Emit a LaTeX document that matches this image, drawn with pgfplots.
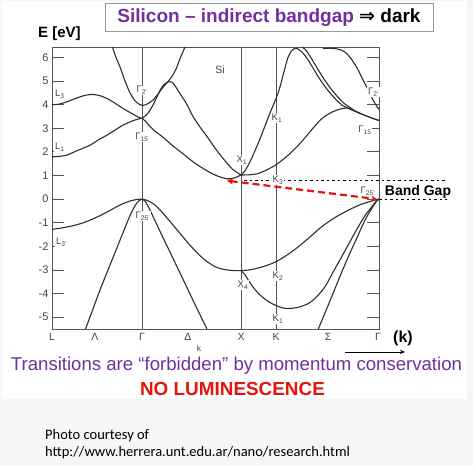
\documentclass[border=0pt]{standalone}
\usepackage{pgfplots}
\pgfplotsset{compat=1.18}
\usepackage{fontspec}
\setmainfont{Liberation Sans}
\newfontfamily\dejavu{DejaVu Sans}
\newfontfamily\carlito{Carlito}
\usetikzlibrary{arrows.meta}
\definecolor{purp}{HTML}{7030A0}
\definecolor{redc}{HTML}{E8140C}
\definecolor{axc}{HTML}{555555}
\definecolor{tkc}{HTML}{444444}
\definecolor{bandc}{HTML}{2E2E2E}
\definecolor{bgc}{HTML}{F4F6F7}
\tikzset{lbl/.style={font=\fontsize{9.5}{11}\selectfont, text=tkc, fill=white, inner sep=0.8pt}}
\begin{document}
\begin{tikzpicture}[x=1pt,y=1pt]
\useasboundingbox (0,0) rectangle (473,-465);
\fill[bgc] (0,0) rectangle (473,-465);
\fill[white] (2,-1) rectangle (467,-399);
% title box
\draw[draw=gray!80, line width=0.8pt] (105,-3) rectangle (433,-31.5);
\node at (269,-17.5) {\fontsize{19}{22}\selectfont\bfseries\textcolor{purp}{Silicon – indirect bandgap} {\dejavu\bfseries ⇒} dark};
\node at (59.5,-34) {\fontsize{15}{17}\selectfont\bfseries E [eV]};
\begin{axis}[
  at={(52pt,-329pt)}, anchor=south west,
  width=327pt, height=282pt, scale only axis,
  xmin=0, xmax=327, ymin=-5.5, ymax=6.44,
  axis line style={draw=axc, line width=0.9pt},
  xtick={0,43,90,136,189,224,276,326},
  xticklabels={L,Λ,Γ,Δ,X,K,Σ,Γ},
  x tick label style={font=\fontsize{10.5}{12}\selectfont, text=tkc, yshift=-1pt},
  xtick style={draw=none},
  ytick={-5,-4,-3,-2,-1,0,1,2,3,4,5,6},
  yticklabels={-5,-4,-3,-2,-1,0,1,2,3,4,5,6},
  yticklabel pos=left,
  ytick pos=both,
  y tick label style={font=\fontsize{11}{12}\selectfont, text=tkc},
  tick align=inside,
  major tick length=12pt,
  ytick style={draw=axc, line width=0.8pt},
  clip=false,
  every axis plot/.append style={line width=1.1pt, bandc, no marks},
]
% vertical symmetry lines
\addplot[line width=0.8pt, axc] coordinates {(90,-5.5) (90,6.44)};
\addplot[line width=0.8pt, axc] coordinates {(189,-5.5) (189,6.44)};
\addplot[line width=0.8pt, axc] coordinates {(224,-5.5) (224,6.44)};
% dotted band-gap guide lines
\addplot[line width=0.7pt, black, dash pattern=on 2.5pt off 3pt] coordinates {(192,0.8) (395,0.8)};
\addplot[line width=0.7pt, black, dash pattern=on 2.5pt off 3pt] coordinates {(327,0) (395,0)};
% ---- conduction bands ----
% L3 band
\addplot[smooth] coordinates {(0,4.0) (7,4.02) (14.7,4.12) (21,4.22) (28,4.33) (35,4.41) (41,4.43) (48,4.38) (55,4.26) (63,4.06) (71,3.84) (80,3.62) (86,3.48) (90,3.42)};
% L1 band
\addplot[smooth] coordinates {(0,1.79) (7,1.81) (14.7,1.86) (25,2.05) (38,2.28) (46,2.5) (55,2.71) (63,2.92) (71,3.13) (80,3.3) (86,3.39) (90,3.42)};
% Gamma2' band
\addplot[smooth] coordinates {(60.5,6.44) (64,6.0) (68,5.6) (73,5.0) (78,4.5) (83,4.17) (87,4.02) (90,3.97) (94,4.0) (98,4.1) (101.3,4.2) (106,4.45) (111.3,4.75) (116.5,5.0) (120,5.2) (124,5.5) (128.5,6.0) (133,6.44)};
% Gamma15 upper branch -> X1
\addplot[smooth] coordinates {(90,3.42) (94,3.55) (98,3.76) (103,4.15) (108,4.6) (112,4.85) (117,4.98) (120,4.95) (123,4.8) (128,4.47) (135,4.0) (141,3.5) (148,3.05) (155,2.65) (161,2.28) (168,1.88) (175,1.52) (181,1.25) (189,1.02)};
% Gamma15 lower branch -> minimum -> X1
\addplot[smooth] coordinates {(90,3.42) (93,3.32) (96,3.17) (101,2.95) (106,2.78) (111,2.62) (121,2.25) (131,1.92) (141,1.58) (151,1.3) (161,1.06) (168,0.94) (175,0.86) (182,0.89) (189,1.02)};
% X1 -> steep -> peak -> Gamma
\addplot[smooth] coordinates {(189,1.02) (193,1.2) (198,1.58) (203,2.05) (208,2.55) (213,3.1) (218,3.65) (224,4.26) (228,4.75) (232,5.4) (236,6.0) (240,6.3) (243.5,6.38) (247,6.33) (251,6.18) (256,5.9) (261,5.55) (266,5.2) (271,4.88) (276,4.6) (281,4.35) (286,4.13) (291,3.95) (296,3.85) (302,3.74) (308,3.63) (314,3.53) (320,3.43) (327,3.33)};
% X1 -> K3 -> Gamma
\addplot[smooth] coordinates {(189,1.02) (197,1.03) (205,1.07) (214,1.22) (224,1.45) (231,1.68) (238,1.93) (245,2.22) (251,2.5) (258,2.85) (265,3.2) (271,3.45) (278,3.64) (285,3.77) (291,3.84) (296,3.85) (302,3.74) (308,3.63) (314,3.53) (320,3.43) (327,3.33)};
% second descending line
\addplot[smooth] coordinates {(250,6.44) (254,6.3) (258,6.05) (263,5.7) (268,5.35) (273,5.02) (278,4.72) (283,4.46) (288,4.22) (293,4.02) (298,3.88) (302,3.76) (308,3.63)};
% Gamma2' (right) band
\addplot[smooth] coordinates {(271,6.37) (276,6.39) (281,6.38) (286,6.35) (291,6.28) (295,6.15) (299,5.95) (303,5.7) (307,5.4) (311,5.05) (315,4.72) (318,4.45) (321,4.2) (324,3.98) (327,3.8)};
% ---- valence bands ----
\addplot[smooth] coordinates {(0,-1.28) (10,-1.22) (19.7,-1.14) (30,-1.02) (39.7,-0.86) (50,-0.66) (59.7,-0.44) (68,-0.25) (76,-0.11) (83,-0.03) (90,0) (96,-0.07) (103,-0.25) (111,-0.6) (119.7,-1.03) (128,-1.45) (136.3,-1.87) (145,-2.27) (153,-2.58) (163,-2.86) (172,-2.98) (180,-3.02) (189,-3.03) (197,-3.0) (205,-2.93) (214,-2.82) (224,-2.65) (235,-2.37) (246.3,-2.02) (258,-1.6) (269.7,-1.17) (283,-0.78) (296.3,-0.47) (308,-0.24) (319.7,-0.08) (327,0)};
\addplot[smooth] coordinates {(189,-3.03) (193,-3.2) (196.3,-3.43) (201,-3.72) (206.3,-3.99) (215,-4.3) (223.7,-4.5) (231,-4.61) (237,-4.63) (244,-4.6) (251,-4.52) (258,-4.38) (265,-4.12) (273,-3.71) (281,-3.1) (289.7,-2.44) (298,-1.8) (306.3,-1.17) (313,-0.7) (319.7,-0.33) (324,-0.1) (327,0)};
\addplot[smooth] coordinates {(33.5,-5.5) (41,-4.65) (48,-3.85) (56,-3.0) (64,-2.16) (71,-1.42) (78,-0.7) (83,-0.28) (87,-0.07) (90,0)};
\addplot[smooth] coordinates {(90,0) (93,-0.08) (96,-0.3) (100,-0.64) (107.4,-1.31) (120,-2.42) (133,-3.57) (144,-4.55) (155,-5.5)};
\addplot[smooth] coordinates {(266.3,-5.5) (273,-4.82) (279.7,-4.13) (288,-3.27) (296.3,-2.44) (304.7,-1.66) (313,-0.89) (319.7,-0.4) (324,-0.12) (327,0)};
% band gap arrow
\addplot[line width=2.2pt, redc, dash pattern=on 7pt off 4pt, {Stealth[length=6pt,width=6pt]}-{Stealth[length=6pt,width=6pt]}] coordinates {(175,0.78) (325,0.0)};
% labels
\node[lbl] at (axis cs:168,5.46) {\fontsize{10.5}{12}\selectfont Si};
\node[lbl, anchor=west] at (axis cs:2,4.45) {L\textsubscript{3}};
\node[lbl, anchor=west] at (axis cs:2,2.2) {L\textsubscript{1}};
\node[lbl] at (axis cs:90,4.6) {Γ\textsubscript{2'}};
\node[lbl] at (axis cs:90,2.62) {Γ\textsubscript{15}};
\node[lbl] at (axis cs:190,1.65) {X\textsubscript{1}};
\node[lbl] at (axis cs:225,3.43) {K\textsubscript{1}};
\node[lbl, anchor=east] at (axis cs:328,4.53) {Γ\textsubscript{2'}};
\node[lbl] at (axis cs:313,2.92) {Γ\textsubscript{15}};
\node[lbl] at (axis cs:226,0.8) {K\textsubscript{3}};
\node[lbl] at (axis cs:316,0.33) {Γ\textsubscript{25'}};
\node[lbl] at (axis cs:91,-0.72) {Γ\textsubscript{25'}};
\node[lbl, anchor=west] at (axis cs:3,-1.82) {L\textsubscript{3'}};
\node[lbl] at (axis cs:226,-3.26) {K\textsubscript{2}};
\node[lbl] at (axis cs:191,-3.64) {X\textsubscript{4}};
\node[lbl] at (axis cs:226,-5.08) {K\textsubscript{1}};
\end{axis}
\node at (418,-191.5) {\fontsize{14}{16}\selectfont\bfseries Band Gap};
\node at (403,-338) {\fontsize{16}{18}\selectfont\bfseries (k)};
\node[text=tkc] at (199,-348) {\fontsize{8.5}{9}\selectfont k};
\draw[-{Stealth[length=5pt,width=4pt]}, line width=0.7pt] (345,-352) -- (405,-352);
\node[text=purp] at (236.5,-366) {\fontsize{18.6}{21}\selectfont Transitions are “forbidden” by momentum conservation};
\node[text=redc] at (232.5,-388.5) {\fontsize{18.9}{21}\selectfont\bfseries NO LUMINESCENCE};
\node[anchor=west, inner sep=0pt] at (45,-436) {\carlito\fontsize{14.5}{16}\selectfont Photo courtesy of};
\node[anchor=west, inner sep=0pt] at (45,-453) {\carlito\fontsize{14.5}{16}\selectfont http://www.herrera.unt.edu.ar/nano/research.html};
\end{tikzpicture}
\end{document}
